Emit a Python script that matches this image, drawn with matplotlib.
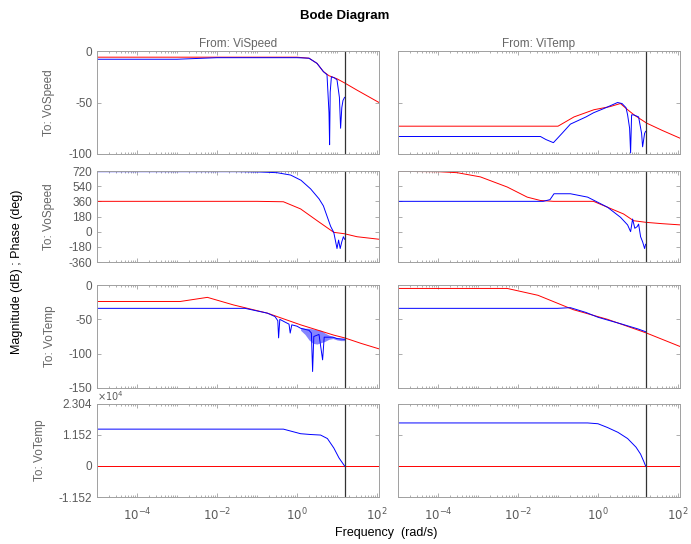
import numpy as np
import matplotlib
matplotlib.use("Agg")
import matplotlib.pyplot as plt
from matplotlib.ticker import FixedLocator, LogLocator, NullFormatter

plt.rcParams['font.family'] = ['Liberation Sans', 'DejaVu Sans']

# ---------------- data (log10 frequency, value) ----------------
nyq_log = 1.19

# Row 1 : magnitude ViSpeed -> VoSpeed (dB)
m11_red_f = [-5.0, -2.0, 0.0, 0.3, 0.5, 0.66, 0.8, 1.0, 1.19, 1.5, 2.05]
m11_red_v = [-6, -6, -6, -7, -12, -20, -24, -27, -31, -38, -50]
m11_blu_f = [-5.0, -3.0, -2.0, 0.0, 0.3, 0.5, 0.66, 0.75, 0.80, 0.815, 0.83, 0.86, 0.93, 1.0, 1.06, 1.09, 1.12, 1.15, 1.19]
m11_blu_v = [-8, -8, -6.5, -6.5, -7, -12, -20, -23, -60, -91, -40, -25, -26, -28, -45, -75, -55, -48, -45]

# Row 1 : magnitude ViTemp -> VoSpeed (dB)
m12_red_f = [-5.0, -1.0, -0.6, -0.1, 0.3, 0.56, 0.74, 0.9, 1.215, 1.6, 2.07]
m12_red_v = [-73, -73, -64, -57, -54, -51, -57, -62, -70, -77, -85]
m12_blu_f = [-5.0, -1.44, -1.3, -1.115, -0.9, -0.69, -0.3, -0.113, 0.2, 0.489, 0.60, 0.70, 0.74, 0.79, 0.815, 0.84, 0.89, 1.015, 1.09, 1.115, 1.165, 1.19]
m12_blu_v = [-83, -83, -86, -89, -80, -71, -64, -60, -55, -50, -51, -55, -62, -75, -99, -62, -62, -64, -80, -93, -80, -78]

# Row 2 : phase ViSpeed -> VoSpeed (deg)
p11_red_f = [-5.0, -1.0, -0.34, 0.09, 0.51, 0.92, 1.19, 1.5, 2.05]
p11_red_v = [360, 360, 355, 270, 128, -8, -25, -60, -90]
p11_blu_f = [-5.0, -1.5, -0.92, -0.5, -0.16, 0.1, 0.34, 0.55, 0.66, 0.84, 0.92, 1.0, 1.04, 1.08, 1.12, 1.16, 1.19]
p11_blu_v = [712, 712, 708, 700, 672, 610, 508, 390, 306, 64, -10, -200, -100, -200, -120, -60, -90]

# Row 2 : phase ViTemp -> VoSpeed (deg)
p12_red_f = [-5.0, -4.0, -3.52, -2.94, -2.27, -1.77, -1.44, -1.115, -0.113, 0.238, 0.639, 0.89, 1.215, 1.6, 2.07]
p12_red_v = [715, 712, 700, 650, 530, 410, 370, 360, 360, 290, 210, 130, 110, 95, 80]
p12_blu_f = [-5.0, -1.37, -1.2, -1.1, -0.69, -0.26, 0.238, 0.564, 0.74, 0.815, 0.865, 0.92, 0.98, 1.015, 1.065, 1.115, 1.165, 1.19]
p12_blu_v = [360, 360, 380, 450, 450, 410, 290, 170, 80, 0, 150, 40, 60, 90, -60, -120, -200, -150]

# Row 3 : magnitude ViSpeed -> VoTemp (dB)
m21_red_f = [-5.0, -2.92, -2.24, -1.59, -0.74, 0.09, 0.92, 1.19, 1.6, 2.05]
m21_red_v = [-24, -24, -18, -29, -41, -58, -73, -77, -85, -93]
m21_blu_f = [-5.0, -1.3, -0.74, -0.55, -0.48, -0.46, -0.43, -0.3, -0.2, -0.17, -0.13, 0.0,
             0.09, 0.3, 0.36, 0.39, 0.42, 0.55, 0.64, 0.68, 0.9, 1.0, 1.19]
m21_blu_v = [-34, -34, -41, -46, -52, -77, -50, -54, -57, -70, -58, -60,
             -63, -66, -70, -126, -75, -72, -109, -76, -76, -78, -79]
# dense oscillation band (upper / lower envelope) of the blue ViSpeed -> VoTemp trace
m21_band_f = [0.09, 0.2, 0.3, 0.4, 0.5, 0.6, 0.7, 0.8, 0.9, 1.0, 1.1, 1.19]
m21_band_hi = [-62, -63, -63, -64, -65, -66, -70, -73, -75, -77, -78, -78]
m21_band_lo = [-66, -72, -80, -85, -86, -84, -82, -79, -78, -80, -81, -81]

# Row 3 : magnitude ViTemp -> VoTemp (dB)
m22_red_f = [-5.0, -2.27, -1.5, -0.614, 0.238, 1.215, 2.07]
m22_red_v = [-5, -5, -15, -36, -50, -70, -90]
m22_blu_f = [-5.0, -1.015, -0.69, -0.3, 0.0, 0.238, 0.6, 1.0, 1.19]
m22_blu_v = [-34, -34, -33, -40, -47, -51, -57, -64, -68]

# Row 4 : phase ViSpeed -> VoTemp (x 1e4 deg)
p21_red_f = [-5.0, 2.05]
p21_red_v = [0.0, 0.0]
p21_blu_f = [-5.0, -0.34, 0.09, 0.34, 0.59, 0.76, 0.92, 1.05, 1.19]
p21_blu_v = [1.37, 1.37, 1.20, 1.17, 1.15, 1.02, 0.67, 0.30, 0.0]

# Row 4 : phase ViTemp -> VoTemp (x 1e4 deg)
p22_red_f = [-5.0, 2.07]
p22_red_v = [0.0, 0.0]
p22_blu_f = [-5.0, -0.26, 0.0, 0.238, 0.5, 0.74, 0.95, 1.065, 1.15, 1.19]
p22_blu_v = [1.60, 1.60, 1.57, 1.43, 1.25, 1.02, 0.70, 0.44, 0.15, 0.0]

row_ylims = [(-100, 0), (-360, 720), (-150, 0), (-1.152, 2.304)]
row_yticks = [[-100, -50, 0], [-360, -180, 0, 180, 360, 540, 720], [-150, -100, -50, 0], [-1.152, 0, 1.152, 2.304]]
row_yticklabels = [['-100', '-50', '0'], ['-360', '-180', '0', '180', '360', '540', '720'],
                   ['-150', '-100', '-50', '0'], ['-1.152', '0', '1.152', '2.304']]
col_titles = ['From: ViSpeed', 'From: ViTemp']
row_labels = ['To: VoSpeed', 'To: VoSpeed', 'To: VoTemp', 'To: VoTemp']
xticks_major = [1e-4, 1e-2, 1e0, 1e2]
xticklabels = ['$10^{-4}$', '$10^{-2}$', '$10^{0}$', '$10^{2}$']

curves = [
    [((m11_red_f, m11_red_v), (m11_blu_f, m11_blu_v)), ((m12_red_f, m12_red_v), (m12_blu_f, m12_blu_v))],
    [((p11_red_f, p11_red_v), (p11_blu_f, p11_blu_v)), ((p12_red_f, p12_red_v), (p12_blu_f, p12_blu_v))],
    [((m21_red_f, m21_red_v), (m21_blu_f, m21_blu_v)), ((m22_red_f, m22_red_v), (m22_blu_f, m22_blu_v))],
    [((p21_red_f, p21_red_v), (p21_blu_f, p21_blu_v)), ((p22_red_f, p22_red_v), (p22_blu_f, p22_blu_v))],
]

# ---------------- figure ----------------
W, H = 691, 544
fig = plt.figure(figsize=(W / 100, H / 100), dpi=100)

col_x = [97, 398]
col_w = 282
row_y = [(51, 154), (171, 262), (285, 388), (404, 497)]
row_label_x = [49, 49, 50, 40]

tick_color = '#5a5a5a'
spine_color = '#a0a0a0'

for r in range(4):
    for c in range(2):
        top, bot = row_y[r]
        ax = fig.add_axes([col_x[c] / W, 1 - bot / H, col_w / W, (bot - top) / H])
        (rf, rv), (bf, bv) = curves[r][c]
        if r == 2 and c == 0:
            ax.fill_between(10 ** np.array(m21_band_f), m21_band_lo, m21_band_hi,
                            color='#2020ff', alpha=0.55, lw=0)
        ax.plot(10 ** np.array(rf), rv, color='#ff0000', lw=0.7)
        ax.plot(10 ** np.array(bf), bv, color='#0000ff', lw=0.7)
        ax.axvline(10 ** nyq_log, color='#333333', lw=0.9)
        ax.set_xscale('log')
        ax.set_xlim(10 ** -5.0, 10 ** 2.05)
        ax.set_ylim(*row_ylims[r])
        ax.set_yticks(row_yticks[r])
        ax.xaxis.set_major_locator(FixedLocator(xticks_major))
        ax.xaxis.set_minor_locator(LogLocator(base=10, subs=np.arange(1, 10), numticks=50))
        ax.xaxis.set_minor_formatter(NullFormatter())
        if c == 0:
            ax.set_yticklabels(row_yticklabels[r])
        else:
            ax.set_yticklabels([])
        if r == 3:
            ax.set_xticklabels(xticklabels)
        else:
            ax.set_xticklabels([])
        ax.tick_params(which='both', direction='in', top=True, right=True,
                       colors=spine_color, labelcolor=tick_color, labelsize=8.5,
                       width=0.6)
        ax.tick_params(which='major', length=3)
        ax.tick_params(which='minor', length=1.5)
        ax.tick_params(axis='x', pad=7)
        for s in ax.spines.values():
            s.set_color(spine_color)
            s.set_linewidth(0.7)
        if r == 0:
            ax.set_title(col_titles[c], fontsize=8.5, color='#666666', pad=3)
        if c == 0:
            fig.text(row_label_x[r] / W, 1 - (top + bot) / 2 / H, row_labels[r], rotation=90,
                     ha='center', va='center', fontsize=8.5, color='#666666')
        if r == 3 and c == 0:
            ax.text(0.0, 1.01, r'$\times10^{4}$', transform=ax.transAxes,
                    ha='left', va='bottom', fontsize=7, color=tick_color)

fig.text(345 / W, 1 - 16 / H, 'Bode Diagram', ha='center', va='center',
         fontsize=9.5, fontweight='bold')
fig.text(386 / W, 1 - 533 / H, 'Frequency  (rad/s)', ha='center', va='center', fontsize=9)
fig.text(17 / W, 1 - 272 / H, 'Magnitude (dB) ; Phase (deg)', ha='center', va='center',
         rotation=90, fontsize=9)

fig.savefig('out.png', dpi=100)
